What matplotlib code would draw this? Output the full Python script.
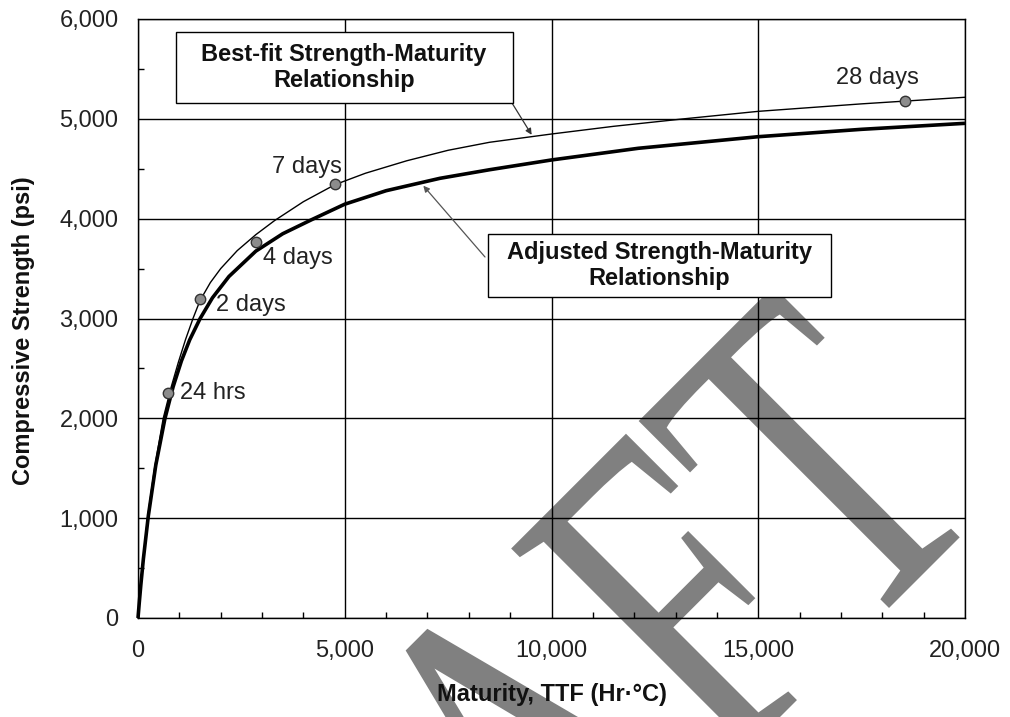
import matplotlib
matplotlib.use("Agg")
import matplotlib.pyplot as plt
from matplotlib.ticker import MultipleLocator, FuncFormatter
from matplotlib.patches import Rectangle
from matplotlib.patheffects import AbstractPathEffect
from matplotlib.transforms import Affine2D

# ---- data ----
bestfit_M = [0, 30, 70, 130, 230, 400, 610, 800, 975, 1150, 1330, 1500, 1750, 2000, 2400,
             2850, 3300, 4000, 4760, 5500, 6500, 7500, 8500, 10000, 11500, 13200, 15000,
             17500, 20000]
bestfit_S = [0, 150, 340, 600, 1000, 1500, 2000, 2310, 2560, 2790, 3000, 3180, 3360, 3500, 3680,
             3840, 3980, 4170, 4340, 4455, 4580, 4685, 4765, 4848, 4925, 5000, 5075,
             5150, 5216]

adjusted_M = [0, 30, 70, 130, 250, 430, 650, 850, 1050, 1250, 1500, 1800, 2200, 2850, 3500,
              4200, 5000, 6000, 7300, 8500, 10000, 12100, 15000, 17500, 20000]
adjusted_S = [0, 150, 338, 592, 1024, 1531, 1995, 2317, 2575, 2786, 2998, 3207, 3421, 3675, 3849,
              3990, 4145, 4280, 4404, 4490, 4588, 4705, 4821, 4895, 4955]

age_labels = ["24 hrs", "2 days", "4 days", "7 days", "28 days"]
age_M = [718, 1490, 2854, 4775, 18550]
age_S = [2257, 3195, 3770, 4350, 5182]

xticks = [0, 5000, 10000, 15000, 20000]
yticks = [0, 1000, 2000, 3000, 4000, 5000, 6000]

W, H = 1010, 717
fig = plt.figure(figsize=(W / 100, H / 100), dpi=100)
fig.patch.set_facecolor("white")

def fx(px):
    return px / W

def fy(py):
    return 1 - py / H


class Squeeze(AbstractPathEffect):
    """Compress text along its (rotated) baseline about a fixed display point."""
    def __init__(self, factor, angle, cx, cy):
        super().__init__()
        self._t = (Affine2D().translate(-cx, -cy).rotate_deg(-angle)
                   .scale(factor, 1).rotate_deg(angle).translate(cx, cy))

    def draw_path(self, renderer, gc, tpath, affine, rgbFace=None):
        renderer.draw_path(gc, tpath, affine + self._t, rgbFace)


ax = fig.add_axes([fx(138), fy(618), fx(965) - fx(138), fy(19) - fy(618)])
ax.set_facecolor("none")

# watermark behind the axes
wm_x, wm_y = 996, 501
fig.text(fx(wm_x), fy(wm_y), "DRAFT", fontsize=340, family="Liberation Serif",
         color="#808080", rotation=45, rotation_mode="anchor",
         ha="right", va="baseline", zorder=-5,
         path_effects=[Squeeze(0.70, 45, wm_x, H - wm_y)])

ax.set_xlim(0, 20000)
ax.set_ylim(0, 6000)
ax.set_xticks(xticks)
ax.set_yticks(yticks)
ax.xaxis.set_minor_locator(MultipleLocator(1000))
ax.yaxis.set_minor_locator(MultipleLocator(500))
fmt = FuncFormatter(lambda v, p: f"{int(v):,}")
ax.xaxis.set_major_formatter(fmt)
ax.yaxis.set_major_formatter(fmt)
ax.tick_params(which="major", length=0, labelsize=17, labelcolor="#222222")
ax.tick_params(axis="x", which="major", pad=16)
ax.tick_params(axis="y", which="major", pad=14)
ax.tick_params(which="minor", direction="in", length=4, width=1, color="black")
ax.grid(True, which="major", color="black", linewidth=1.0)
ax.set_axisbelow(True)
for s in ax.spines.values():
    s.set_color("black")
    s.set_linewidth(1.0)

ax.set_xlabel("Maturity, TTF (Hr\u00b7\u00b0C)", fontsize=17, fontweight="bold",
              family="Liberation Sans", color="#111111")
ax.set_ylabel("Compressive Strength (psi)", fontsize=17, fontweight="bold",
              family="Liberation Sans", color="#111111")
ax.xaxis.set_label_coords(0.5, -0.108)
ax.yaxis.set_label_coords(-0.125, 0.48)
for lbl in ax.get_xticklabels() + ax.get_yticklabels():
    lbl.set_family("Liberation Sans")

ax.plot(adjusted_M, adjusted_S, color="black", linewidth=2.6, zorder=4,
        solid_capstyle="butt", clip_on=False)
ax.plot(bestfit_M, bestfit_S, color="black", linewidth=1.0, zorder=4, clip_on=False)
ax.plot(age_M, age_S, linestyle="none", marker="o", markersize=7.5,
        markerfacecolor="#8c8c8c", markeredgecolor="#333333", markeredgewidth=1.0, zorder=5)

offsets = [(12, 0, "left"), (16, -6, "left"), (7, -16, "left"), (6, 17, "right"), (-28, 23, "center")]
for lab, m, s, (dx, dy, ha) in zip(age_labels, age_M, age_S, offsets):
    ax.annotate(lab, xy=(m, s), xytext=(dx, dy), textcoords="offset pixels",
                ha=ha, va="center", fontsize=17, family="Liberation Sans",
                color="#222222", zorder=6)

# text boxes
for (x0, y0, x1, y1) in [(176, 32, 513, 103), (488, 234, 831, 297)]:
    fig.add_artist(Rectangle((fx(x0), fy(y1)), fx(x1) - fx(x0), fy(y0) - fy(y1),
                             transform=fig.transFigure, facecolor="white",
                             edgecolor="black", linewidth=1.0, zorder=10))
fig.text(fx(344), fy(67.5), "Best-fit Strength-Maturity\nRelationship", ha="center",
         va="center", multialignment="center", fontsize=17, fontweight="bold",
         family="Liberation Sans", color="#111111", zorder=11, linespacing=1.2)
fig.text(fx(659.5), fy(265.5), "Adjusted Strength-Maturity\nRelationship", ha="center",
         va="center", multialignment="center", fontsize=17, fontweight="bold",
         family="Liberation Sans", color="#111111", zorder=11, linespacing=1.2)

# arrows from boxes to curves
ax.annotate("", xy=(9520, 4840), xytext=(512, H - 103), textcoords="figure pixels",
            arrowprops=dict(arrowstyle="-|>", color="#333333", lw=0.9, mutation_scale=9,
                            shrinkA=0, shrinkB=0), zorder=9)
ax.annotate("", xy=(6900, 4330), xytext=(485, H - 257), textcoords="figure pixels",
            arrowprops=dict(arrowstyle="-|>", color="#555555", lw=0.9, mutation_scale=9,
                            shrinkA=0, shrinkB=0), zorder=9)

fig.savefig("out.png", dpi=100, facecolor="white")
